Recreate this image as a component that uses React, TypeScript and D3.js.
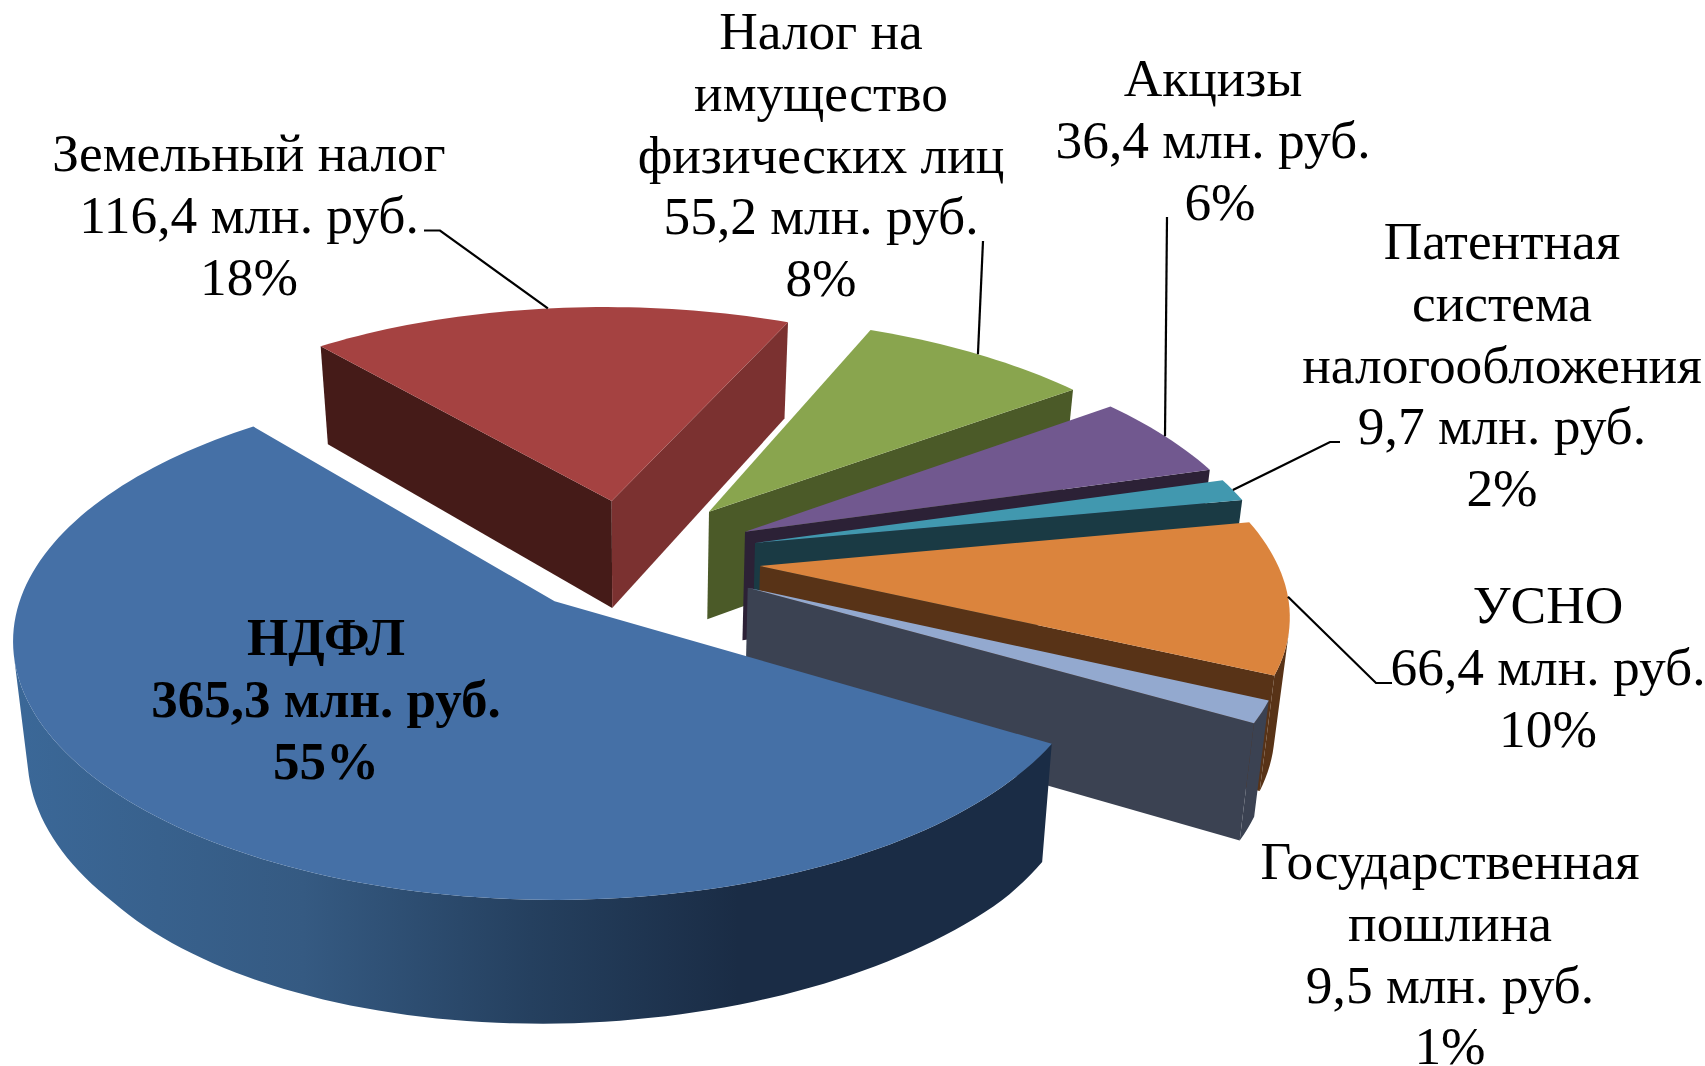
import React, { useEffect, useRef } from "react";
import * as d3 from "d3";

// values, in pie order
const names = [
  ["НДФЛ"],
  ["Земельный налог"],
  ["Налог на", "имущество", "физических лиц"],
  ["Акцизы"],
  ["Патентная", "система", "налогообложения"],
  ["УСНО"],
  ["Государственная", "пошлина"],
];
const values = [365.3, 116.4, 55.2, 36.4, 9.7, 66.4, 9.5];
const percents = [55, 18, 8, 6, 2, 10, 1];

// office palette
const topColors = ["#4570a6", "#a54241", "#89a54e", "#71588f", "#4198af", "#db843d", "#93a9cf"];
const startWallColors = ["#1b2f4b", "#451b18", "#4b5a28", "#2c2136", "#1a3a44", "#583317", "#3b4252"];
const endWallColors = ["#1b2f4b", "#7b3130", "#4b5a28", "#2c2136", "#1a3a44", "#583317", "#3b4252"];

// how far each slice is pulled out, in pie radii on the ground plane
const explodeX = [0, 0.1137, 0.3054, 0.3718, 0.3885, 0.3925, 0.364];
const explodeY = [0, -0.4236, -0.3757, -0.2882, -0.2397, -0.1431, -0.0544];
const rimScale = [1, 1, 1, 1, 1, 0.99, 0.99];
const turnDeg = [0.7, 0.6, 0, 0, 0, 0, 0];

// label anchors: centre x, first baseline
const labelX = [326, 249, 821, 1213, 1502, 1548, 1450];
const labelY = [655, 171, 49, 96, 259, 623, 879];
const percentNudge = [0, 0, 0, 7, 0, 0, 0];
// leader line elbows, from the label side towards the rim
const leaders = [
  null,
  [[424, 230.5], [440, 230.5]],
  [[983, 241]],
  [[1167, 217]],
  [[1340, 442], [1330, 442]],
  [[1392, 683], [1376, 683]],
  null,
];

const W = 1705;
const H = 1066;
const originX = 554.6;
const originY = 601.3;
const radiusX = 535;
const radiusY = 252.3;
const persp = 0.155;
const startDeg = 120.6;
const fontSize = 53.4;
const boldSize = 53;
const lineHeight = 61.8;
const toRad = Math.PI / 180;

// ground plane -> screen, z = 0 top face, z = 1 bottom face
const project = (a: number, b: number, z = 0): [number, number] => {
  const w = 1 - persp * b;
  const x = originX + (radiusX * a) / w;
  const y = originY + (radiusY * b) / w;
  if (!z) return [x, y];
  // bottom face leans a little to the left at the very front
  const lean = 16 * (Math.max(0, 0.9 - w) / 0.055);
  return [634 + 0.977 * (x - 634) - lean, y + 188 - 76 * w];
};

// a wall faces the viewer when its outline runs counterclockwise on screen
const facing = (quad: [number, number][]) => d3.polygonArea(quad) > 0;

const App = () => {
  const ref = useRef<SVGSVGElement>(null);

  useEffect(() => {
    const svg = d3.select(ref.current);
    svg.selectAll("*").remove();

    const line = d3.line();
    const pie = d3
      .pie<number>()
      .sort(null)
      .startAngle(startDeg * toRad)
      .endAngle(startDeg * toRad + 2 * Math.PI);

    const arcs = pie(values).map((d, i) => {
      const ox = explodeX[i];
      const oy = explodeY[i];
      const turn = turnDeg[i] * toRad;
      const start = d.startAngle + turn;
      const end = d.endAngle + turn;
      const rim = (angle: number, z = 0) =>
        project(ox + rimScale[i] * Math.sin(angle), oy - rimScale[i] * Math.cos(angle), z);
      const mid = (start + end) / 2;
      const n = Math.ceil((end - start) * 40);
      const angles = d3.range(n + 1).map((k) => start + (k / n) * (end - start));
      return { i, mid, ox, oy, rim, angles, start, end };
    });

    const defs = svg.append("defs");
    const grad = defs
      .append("linearGradient")
      .attr("id", "rimNdfl")
      .attr("gradientUnits", "userSpaceOnUse")
      .attr("x1", 13)
      .attr("x2", 1049)
      .attr("y1", 0)
      .attr("y2", 0);
    grad.append("stop").attr("offset", "0%").attr("stop-color", "#3b6898");
    grad.append("stop").attr("offset", "28%").attr("stop-color", "#355a82");
    grad.append("stop").attr("offset", "50%").attr("stop-color", "#25405f");
    grad.append("stop").attr("offset", "70%").attr("stop-color", "#1a2c45");
    grad.append("stop").attr("offset", "100%").attr("stop-color", "#1a2c45");

    // back to front, the way the slices overlap
    const order = [...arcs].sort((p, q) => -Math.cos(p.mid) + Math.cos(q.mid));

    order.forEach((s) => {
      const g = svg.append("g").attr("class", `slice-${s.i}`);
      const apexTop = project(s.ox, s.oy);
      const apexBottom = project(s.ox, s.oy, 1);
      const wallFill = s.i === 0 ? "url(#rimNdfl)" : endWallColors[s.i];

      // outer curved wall: only the runs of steps that face us
      let run: number[] = [];
      const flush = () => {
        if (run.length > 1) {
          const wall = [...run.map((a) => s.rim(a)), ...[...run].reverse().map((a) => s.rim(a, 1))];
          g.append("path").attr("d", line(wall) + "Z").attr("fill", wallFill);
        }
        run = [];
      };
      d3.pairs(s.angles).forEach(([a0, a1]) => {
        if (facing([s.rim(a0), s.rim(a1), s.rim(a1, 1), s.rim(a0, 1)])) {
          if (!run.length) run.push(a0);
          run.push(a1);
        } else {
          flush();
        }
      });
      flush();

      // radial walls
      const startWall: [number, number][] = [apexTop, s.rim(s.start), s.rim(s.start, 1), apexBottom];
      const endWall: [number, number][] = [s.rim(s.end), apexTop, apexBottom, s.rim(s.end, 1)];
      if (facing(startWall)) {
        g.append("path").attr("d", line(startWall) + "Z").attr("fill", startWallColors[s.i]);
      }
      if (facing(endWall)) {
        g.append("path").attr("d", line(endWall) + "Z").attr("fill", endWallColors[s.i]);
      }

      // top face
      g.append("path")
        .attr("d", line([apexTop, ...s.angles.map((a) => s.rim(a))]) + "Z")
        .attr("fill", topColors[s.i]);
    });

    // leader lines end on the rim at the middle of the slice
    arcs.forEach((s) => {
      const pts = leaders[s.i];
      if (!pts) return;
      svg
        .append("path")
        .attr("d", line([...(pts as [number, number][]), s.rim(s.mid)]))
        .attr("fill", "none")
        .attr("stroke", "#000")
        .attr("stroke-width", 2.2);
    });

    // labels
    arcs.forEach((s) => {
      const rows = [
        ...names[s.i],
        `${String(values[s.i]).replace(".", ",")} млн. руб.`,
        `${percents[s.i]}%`,
      ];
      const text = svg
        .append("text")
        .attr("text-anchor", "middle")
        .attr("font-family", "'Liberation Serif', serif")
        .attr("font-size", s.i === 0 ? boldSize : fontSize)
        .attr("font-weight", s.i === 0 ? "bold" : "normal")
        .attr("fill", "#000");
      rows.forEach((row, k) => {
        text
          .append("tspan")
          .attr("x", labelX[s.i] + (k === rows.length - 1 ? percentNudge[s.i] : 0))
          .attr("y", labelY[s.i] + k * lineHeight)
          .text(row);
      });
    });
  }, []);

  return (
    <svg
      ref={ref}
      width={W}
      height={H}
      style={{ position: "absolute", left: 0, top: 0, background: "#fff" }}
    />
  );
};

export default App;
